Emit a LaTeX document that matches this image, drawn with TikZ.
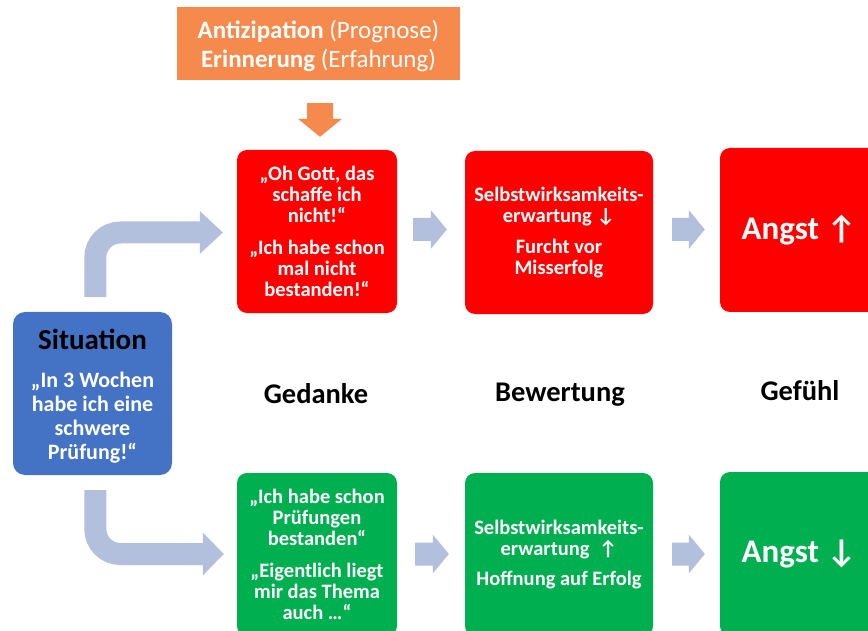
\documentclass[tikz,border=0pt]{standalone}
\usepackage{fontspec}
\setmainfont{Carlito}
\newfontfamily\arrowfont{DejaVu Sans}
\usetikzlibrary{calc}
\definecolor{cOrange}{HTML}{F6894C}
\definecolor{cBlue}{HTML}{4472C4}
\definecolor{cRed}{HTML}{FF0000}
\definecolor{cGreen}{HTML}{00B050}
\definecolor{cArrow}{HTML}{B2C0DD}
\tikzset{
  box/.style={rounded corners=10pt, inner sep=0pt, text=white, align=center,
    font=\fontsize{20.5}{21.3}\selectfont\bfseries},
  redbox/.style={box, fill=cRed},
  greenbox/.style={box, fill=cGreen},
  lbl/.style={inner sep=0pt, text=black, font=\fontsize{28.5}{30}\selectfont\bfseries},
  blockarrow/.style={fill=cArrow, draw=none, to path={let \p1=(\tikztostart), \p2=(\tikztotarget) in
    (\x1,\y1+11.5pt) -- (\x2-16pt,\y1+11.5pt) -- (\x2-16pt,\y1+19.5pt) -- (\x2,\y1)
    -- (\x2-16pt,\y1-19.5pt) -- (\x2-16pt,\y1-11.5pt) -- (\x1,\y1-11.5pt) -- cycle}},
  downarrow/.style={fill=cOrange, draw=none, to path={let \p1=(\tikztostart), \p2=(\tikztotarget) in
    (\x1-13pt,\y1) -- (\x1+13pt,\y1) -- (\x1+13pt,\y2+18pt) -- (\x1+22pt,\y2+18pt) -- (\x1,\y2)
    -- (\x1-22pt,\y2+18pt) -- (\x1-13pt,\y2+18pt) -- cycle}},
  bentshaft/.style={draw=cArrow, line width=22pt, rounded corners=25pt},
  headright/.style={fill=cArrow, draw=none, to path={let \p1=(\tikztostart), \p2=(\tikztotarget) in
    (\x1,\y1+21.5pt) -- (\x2,\y1) -- (\x1,\y1-21.5pt) -- cycle}},
}
\newcommand{\up}{\iffontchar\font"2191 \char"2191\else{\arrowfont\char"2191}\fi}
\newcommand{\down}{\iffontchar\font"2193 \char"2193\else{\arrowfont\char"2193}\fi}
\begin{document}
\begin{tikzpicture}[x=1pt,y=-1pt]
\useasboundingbox (0,0) rectangle (868,631);

% top orange box
\node[fill=cOrange, inner sep=0pt, minimum width=283pt, minimum height=73pt] (orng) at (318.5,43.5) {};
\node[inner sep=0pt, text=white, align=center, font=\fontsize{25}{29}\selectfont] (orngtxt) at (318.5,46)
  {\textbf{Antizipation} (Prognose)\\\textbf{Erinnerung} (Erfahrung)};

% situation box
\node[fill=cBlue, rounded corners=12pt, inner sep=0pt, minimum width=159pt, minimum height=163pt] (sit) at (92.5,393.5) {};
\node[inner sep=0pt, text=white, align=center, font=\fontsize{22}{24}\selectfont\bfseries] (sittxt) at (92.5,396)
  {{\color{black}\fontsize{29}{30}\selectfont Situation}\\[14pt]„In 3 Wochen\\habe ich eine\\schwere\\Prüfung!“};

% red row
\node[redbox, minimum width=160pt, minimum height=163pt] (r1) at (317,231.5)
  {„Oh Gott, das\\schaffe ich\\nicht!“\\[10pt]„Ich habe schon\\mal nicht\\bestanden!“};
\node[redbox, minimum width=188pt, minimum height=163pt] (r2) at (559,232.5)
  {Selbstwirksamkeits-\\erwartung \down\\[10pt]Furcht vor\\Misserfolg};
\node[redbox, minimum width=158pt, minimum height=164pt] (r3) at (799,230)
  {\fontsize{33}{36}\selectfont Angst \up};

% green row
\node[greenbox, minimum width=160pt, minimum height=163pt] (g1) at (317,554.5)
  {„Ich habe schon\\Prüfungen\\bestanden“\\[10pt]„Eigentlich liegt\\mir das Thema\\auch …“};
\node[greenbox, minimum width=188pt, minimum height=163pt] (g2) at (559,554.5)
  {Selbstwirksamkeits-\\erwartung \ \up\\[9pt]Hoffnung auf Erfolg};
\node[greenbox, minimum width=158pt, minimum height=164pt] (g3) at (799,554)
  {\fontsize{33}{36}\selectfont Angst \down};

% column labels
\node[lbl] (ged) at (316,394) {Gedanke};
\node[lbl] (bew) at (560,395) {Bewertung};
\node[lbl] (gef) at (800,391) {Gefühl};

% orange down arrow
\path[downarrow] ([xshift=1.5pt,yshift=-23pt]orng.south) to ([xshift=3pt,yshift=13pt]r1.north);

% bent arrows
\draw[bentshaft] ([xshift=82.5pt,yshift=15pt]sit.north west) |- ([xshift=-37pt,yshift=-1pt]r1.west);
\path[headright] ([xshift=-37pt,yshift=-1pt]r1.west) to ([xshift=-14pt,yshift=-1pt]r1.west);
\draw[bentshaft] ([xshift=82.5pt,yshift=-15pt]sit.south west) |- ([xshift=-34pt,yshift=0.5pt]g1.west);
\path[headright] ([xshift=-34pt,yshift=0.5pt]g1.west) to ([xshift=-13pt,yshift=0.5pt]g1.west);

% small block arrows
\path[blockarrow] ([xshift=16pt,yshift=2pt]r1.east) to ([xshift=-18pt,yshift=3pt]r2.west);
\path[blockarrow] ([xshift=19pt,yshift=3pt]r2.east) to ([xshift=-15pt,yshift=2pt]r3.west);
\path[blockarrow] ([xshift=18pt,yshift=0.5pt]g1.east) to ([xshift=-16pt,yshift=0.5pt]g2.west);
\path[blockarrow] ([xshift=19pt,yshift=0.5pt]g2.east) to ([xshift=-15pt,yshift=0.5pt]g3.west);
\end{tikzpicture}
\end{document}
